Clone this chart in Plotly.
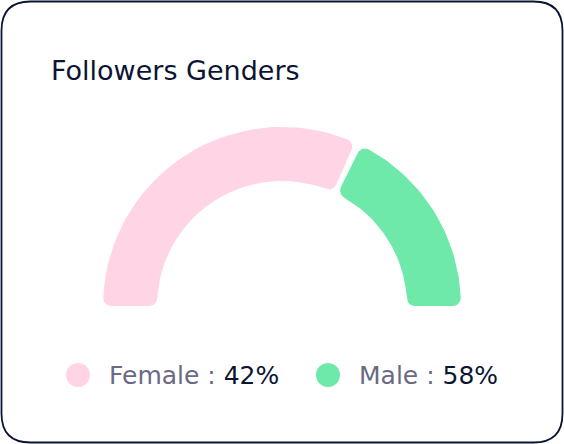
import numpy as np
import plotly.graph_objects as go

# ---- data ----
genders = ["Female", "Male"]
share_labels = [42, 58]          # percentages shown in the legend
arc_shares = [64, 36]            # share of the half-ring each arc covers (as drawn)
colors = ["#FFD5E5", "#6EE9AA"]
title_text = "Followers Genders"

W, H = 564, 444
CX, CY = 282, 306
R_OUT, R_IN = 179, 125
CORNER = 8
GAP = 6
FONT = "DejaVu Sans"

def ring_segment(lo, hi, R, r, c, n=40):
    """Rounded annular sector between angles lo<hi (radians, math convention)."""
    do = np.arcsin(c / (R - c))
    di = np.arcsin(c / (r + c))
    pts = []
    def arc(cx, cy, rad, a0, a1):
        t = np.linspace(a0, a1, n)
        return list(zip(cx + rad * np.cos(t), cy + rad * np.sin(t)))
    pts += arc(0, 0, R, lo + do, hi - do)
    cc = (R - c) * np.array([np.cos(hi - do), np.sin(hi - do)])
    pts += arc(cc[0], cc[1], c, hi - do, hi + np.pi / 2)
    cc = (r + c) * np.array([np.cos(hi - di), np.sin(hi - di)])
    pts += arc(cc[0], cc[1], c, hi + np.pi / 2, hi - di + np.pi)
    pts += arc(0, 0, r, hi - di, lo + di)
    cc = (r + c) * np.array([np.cos(lo + di), np.sin(lo + di)])
    pts += arc(cc[0], cc[1], c, lo + di + np.pi, lo + 1.5 * np.pi)
    cc = (R - c) * np.array([np.cos(lo + do), np.sin(lo + do)])
    pts += arc(cc[0], cc[1], c, lo - np.pi / 2, lo + do)
    pts.append(pts[0])
    xs = np.array([p[0] for p in pts])
    ys = np.array([p[1] for p in pts])
    return CX + xs, CY - ys

fig = go.Figure()

total = sum(arc_shares)
gap_ang = GAP / ((R_OUT + R_IN) / 2)
start = np.pi
for i, (g, v) in enumerate(zip(genders, arc_shares)):
    sweep = np.pi * v / total
    end = start - sweep
    hi = start - (gap_ang / 2 if i > 0 else 0)
    lo = end + (gap_ang / 2 if i < len(arc_shares) - 1 else 0)
    xs, ys = ring_segment(lo, hi, R_OUT, R_IN, CORNER)
    fig.add_trace(go.Scatter(x=xs, y=ys, fill="toself", fillcolor=colors[i],
                             line=dict(width=0, color=colors[i]), mode="lines",
                             hoverinfo="skip", showlegend=False, name=g))
    start = end

# legend
leg_x = [78, 328]
leg_y = 375
fig.add_trace(go.Scatter(x=leg_x, y=[leg_y] * 2, mode="markers",
                         marker=dict(size=24, color=colors, line=dict(width=0)),
                         showlegend=False, hoverinfo="skip"))
for i, g in enumerate(genders):
    fig.add_annotation(x=leg_x[i] + 29, y=leg_y, xref="x", yref="y",
                       xanchor="left", yanchor="middle", showarrow=False,
                       text=f"{g} :<span style='color:#0B1533'> {share_labels[i]}%</span>",
                       font=dict(family=FONT, size=25, color="#6B6985"))

fig.add_annotation(x=49, y=70, xref="x", yref="y", xanchor="left", yanchor="middle",
                   showarrow=False, text=title_text,
                   font=dict(family=FONT, size=27, color="#0B1533"))

# card border
rr = 29
x0, y0, x1, y1 = 1.5, 1.5, W - 1.5, H - 1.5
path = (f"M {x0+rr},{y0} L {x1-rr},{y0} Q {x1},{y0} {x1},{y0+rr} "
        f"L {x1},{y1-rr} Q {x1},{y1} {x1-rr},{y1} L {x0+rr},{y1} "
        f"Q {x0},{y1} {x0},{y1-rr} L {x0},{y0+rr} Q {x0},{y0} {x0+rr},{y0} Z")
fig.add_shape(type="path", path=path, xref="x", yref="y",
              line=dict(color="#0B1533", width=1.8), layer="above")

fig.update_layout(
    width=W, height=H, margin=dict(l=0, r=0, t=0, b=0),
    paper_bgcolor="white", plot_bgcolor="white",
    xaxis=dict(range=[0, W], visible=False, fixedrange=True),
    yaxis=dict(range=[H, 0], visible=False, fixedrange=True),
)
fig.write_html("out.html", config={"displayModeBar": False},
               post_script="document.body.style.margin='0';document.body.style.overflow='hidden';")
